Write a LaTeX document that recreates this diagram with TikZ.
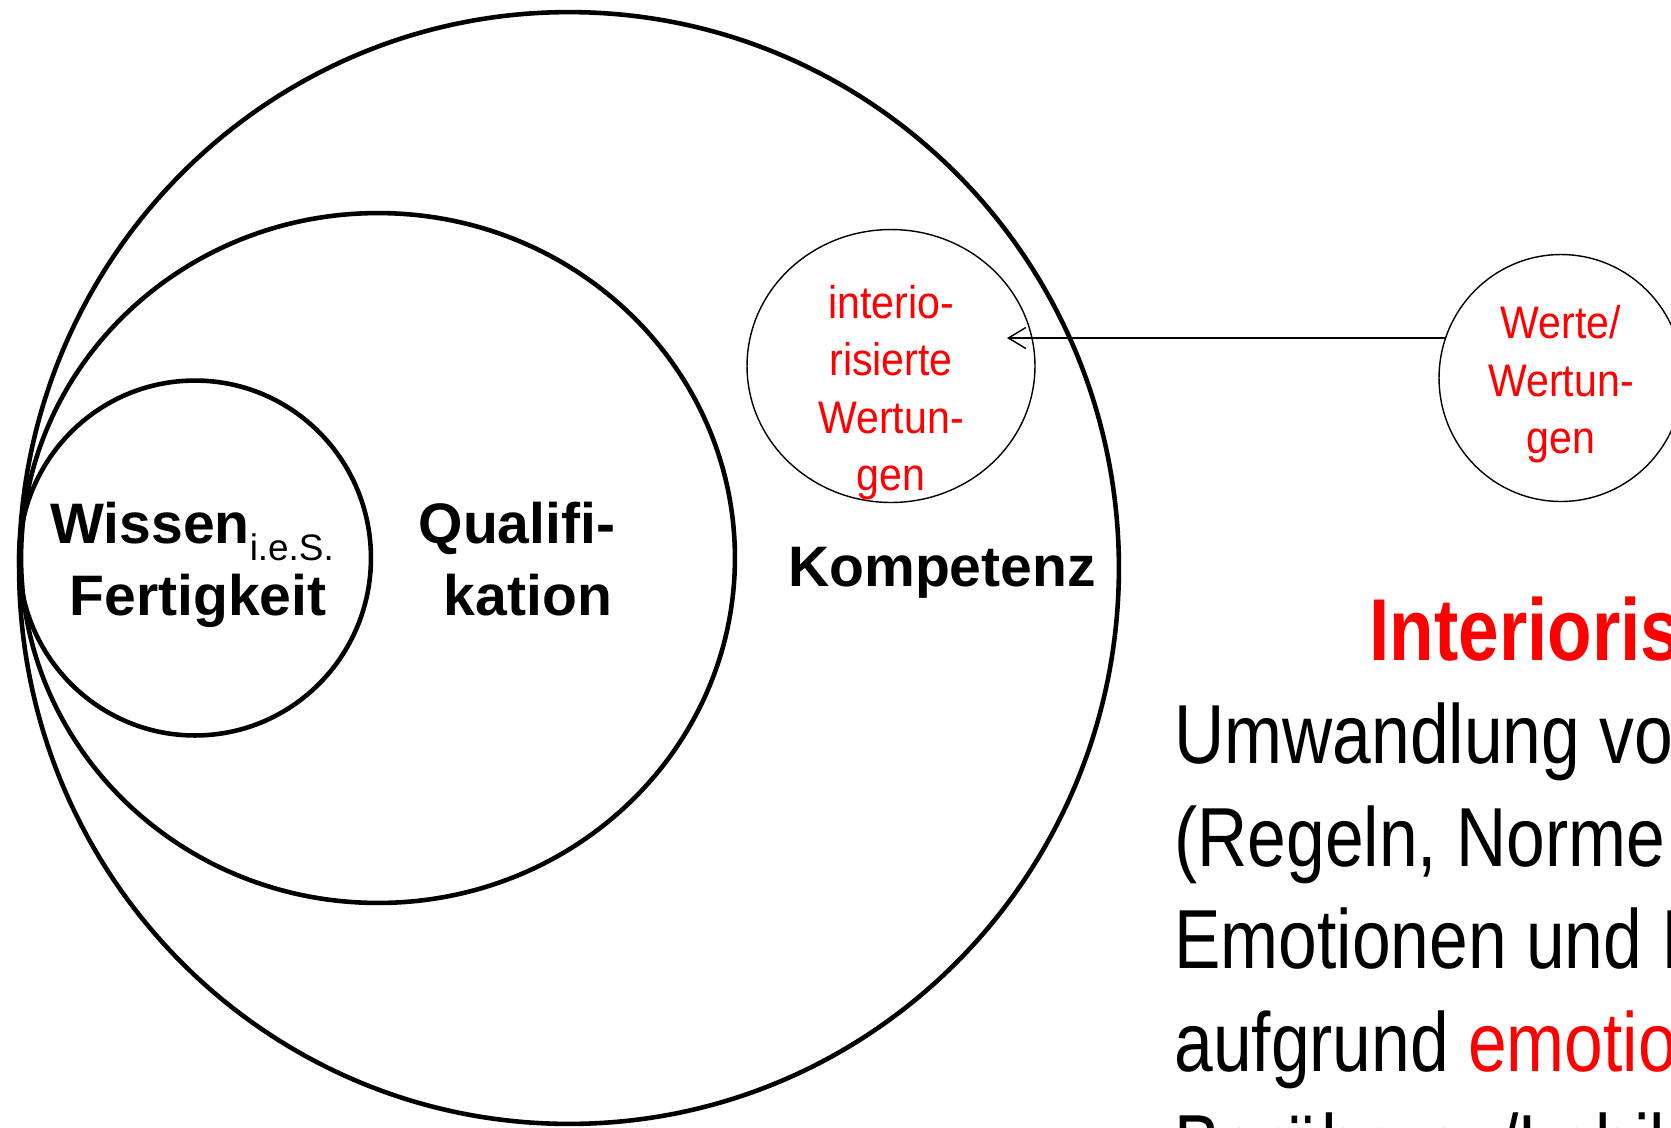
\documentclass[tikz,border=0pt]{standalone}
\usepackage{fontspec}
\setmainfont{Liberation Sans}
\newfontfamily\narrowfont[FakeStretch=0.83]{Liberation Sans}
\newfontfamily\circlefont[FakeStretch=0.9]{Liberation Sans}
\usetikzlibrary{shapes,arrows.meta}

\begin{document}
\begin{tikzpicture}[x=0.02cm, y=-0.02cm,
    ring/.style={ellipse, draw, line width=2.6pt, inner sep=0pt},
    bubble/.style={ellipse, draw, line width=0.8pt, inner sep=0pt},
    lbl/.style={inner sep=0pt, anchor=base, font=\fontsize{32.5}{39}\selectfont\bfseries},
    redtxt/.style={inner sep=0pt, anchor=base, text=red, font=\circlefont\fontsize{26}{31}\selectfont},
    bodytxt/.style={inner sep=0pt, anchor=base west, font=\narrowfont\fontsize{47.7}{58}\selectfont},
    arrow/.style={-{Straight Barb[length=10pt,width=12pt]}, line width=0.8pt}
]
    \path[use as bounding box] (0,0) rectangle (1671,1127);
    \clip (0,0) rectangle (1671,1127);
    \fill[white] (0,0) rectangle (1671,1127);

    % nested rings
    \node[ring, minimum width=22cm, minimum height=22.24cm] (kompetenz) at (569,568) {};
    \node[ring, minimum width=14.28cm, minimum height=13.8cm] (qualifikation) at (378,558) {};
    \node[ring, minimum width=7.04cm, minimum height=7.1cm] (wissen) at (195,558) {};

    % ring labels
    \node[lbl, anchor=base west] (wissen-txt) at (50,543) {Wissen\raisebox{-9.7pt}{\fontsize{21}{24}\selectfont\mdseries i.e.S.}};
    \node[lbl] (fertigkeit) at (198,615) {Fertigkeit};
    \node[lbl] (qualifi) at (517,543) {Qualifi-};
    \node[lbl] (kation) at (528,615) {kation};
    \node[lbl] (kompetenz-txt) at (942,586) {Kompetenz};

    % value bubbles
    \node[bubble, minimum width=5.76cm, minimum height=5.46cm] (interior) at (891,366) {};
    \node[bubble, minimum width=4.88cm, minimum height=4.94cm] (werte) at (1561,378) {};

    \node[redtxt] (int-1) at (891,318) {interio-};
    \node[redtxt] (int-2) at (891,375) {risierte};
    \node[redtxt] (int-3) at (891,433) {Wertun-};
    \node[redtxt] (int-4) at (891,490) {gen};

    \node[redtxt] (wer-1) at (1561,338) {Werte/};
    \node[redtxt] (wer-2) at (1561,396) {Wertun-};
    \node[redtxt] (wer-3) at (1561,453) {gen};

    % arrow
    \coordinate (tip) at (1007,338);
    \draw[arrow] (werte.161) -- (werte.161 -| tip);

    % text on the right
    \node[bodytxt, font=\narrowfont\bfseries\fontsize{50}{60}\selectfont, text=red] (title) at (1369,660) {Interioris};
    \node[bodytxt] (line-1) at (1174,763) {Umwandlung vo};
    \node[bodytxt] (line-2) at (1174,866) {(Regeln, Norme};
    \node[bodytxt] (line-3) at (1174,968) {Emotionen und I};
    \node[bodytxt] (line-4) at (1174,1071) {aufgrund \textcolor{red}{emotio}};
    \node[bodytxt] (line-5) at (1174,1173) {Berührung/Labil};
\end{tikzpicture}
\end{document}
